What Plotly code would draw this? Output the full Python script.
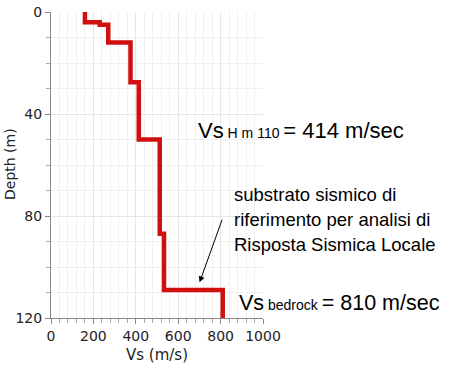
import plotly.graph_objects as go

# Layer profile (Vs in m/s, depth in m)
layer_vs = [160, 230, 270, 375, 414, 513, 533, 810]
layer_top = [0, 4, 5, 12, 27.5, 50, 87, 109]
layer_bottom = [4, 5, 12, 27.5, 50, 87, 109, 120]

xs, ys = [], []
for v, t, b in zip(layer_vs, layer_top, layer_bottom):
    xs += [v, v]
    ys += [t, b]

x_ticks = [0, 200, 400, 600, 800, 1000]
y_ticks = [0, 40, 80, 120]
note_lines = ["substrato sismico di", "riferimento per analisi di", "Risposta Sismica Locale"]

W, H = 455, 371
L, R, T, B = 51, 263, 12, 318

def px(p):
    return (p - L) / (R - L)

def py(p):
    return (B - p) / (B - T)

fig = go.Figure()
fig.add_trace(go.Scatter(x=xs, y=ys, mode="lines",
                         line=dict(color="#d20f0f", width=4.5),
                         hoverinfo="skip", showlegend=False))

font_ann = "Liberation Sans, Arial, sans-serif"
fig.update_layout(
    width=W, height=H,
    margin=dict(l=L, r=W - R, t=T, b=H - B, autoexpand=False),
    paper_bgcolor="white", plot_bgcolor="white",
    font=dict(family="DejaVu Sans, Verdana, sans-serif", size=12, color="#222"),
    xaxis=dict(range=[0, 1000], tickvals=x_ticks, ticks="outside", ticklen=5,
               tickcolor="#888", showline=True, linecolor="#888", linewidth=1,
               showgrid=True, gridcolor="#e6e6e6", zeroline=False, automargin=False,
               ticklabeloverflow="allow",
               minor=dict(dtick=40, ticks="outside", ticklen=4, tickcolor="#aaa",
                          showgrid=True, gridcolor="#f0f0f0"),
               title=dict(text="Vs (m/s)", standoff=6, font=dict(size=15)),
               tickfont=dict(size=14)),
    yaxis=dict(range=[120, 0], tickvals=y_ticks, ticks="outside", ticklen=5,
               tickcolor="#888", showline=True, linecolor="#888", linewidth=1,
               showgrid=True, gridcolor="#e6e6e6", zeroline=False, automargin=False,
               ticklabeloverflow="allow",
               minor=dict(dtick=10, ticks="outside", ticklen=4, tickcolor="#aaa",
                          showgrid=True, gridcolor="#f0f0f0"),
               tickfont=dict(size=14)),
)

fig.add_annotation(xref="paper", yref="paper", x=px(10), y=py(164),
                   xanchor="center", yanchor="middle", showarrow=False, textangle=-90,
                   text="Depth (m)",
                   font=dict(family="DejaVu Sans, Verdana, sans-serif", size=14, color="#222"))
fig.add_annotation(xref="paper", yref="paper", x=px(196), y=py(130),
                   xanchor="left", yanchor="middle", showarrow=False,
                   text="Vs<span style='font-size:14px'> H m 110 </span>= 414 m/sec",
                   font=dict(family=font_ann, size=22, color="black"))
for i, line in enumerate(note_lines):
    fig.add_annotation(xref="paper", yref="paper", x=px(232), y=py(194 + 25 * i),
                       xanchor="left", yanchor="middle", showarrow=False,
                       text=line, font=dict(family=font_ann, size=18.5, color="black"))
fig.add_annotation(xref="paper", yref="paper", x=px(237), y=py(303),
                   xanchor="left", yanchor="middle", showarrow=False,
                   text="Vs<span style='font-size:14px'> bedrock </span>= 810 m/sec",
                   font=dict(family=font_ann, size=21.5, color="black"))
fig.add_annotation(x=701, y=106, xref="x", yref="y", text="", showarrow=True,
                   arrowhead=2, arrowsize=1.2, arrowwidth=1, arrowcolor="black",
                   ax=23, ay=-64)

fig.write_html("out.html", config={"displayModeBar": False},
               post_script="document.body.style.margin='0';document.body.style.overflow='hidden';")
